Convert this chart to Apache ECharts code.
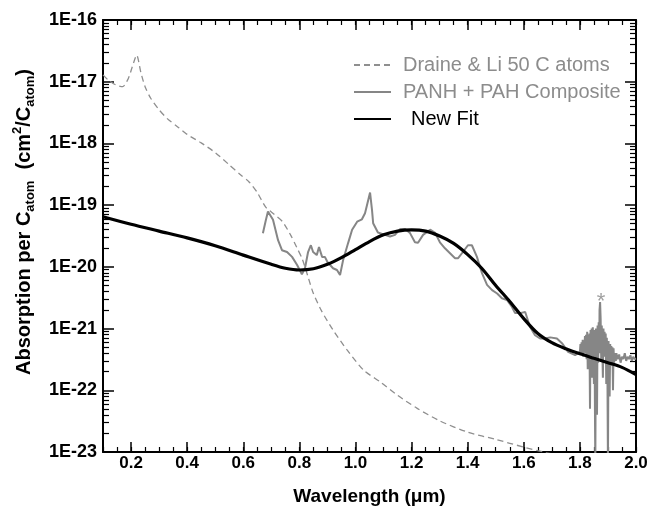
<!DOCTYPE html>
<html><head><meta charset="utf-8">
<script src="https://cdn.jsdelivr.net/npm/echarts@6/dist/echarts.min.js"></script>
<style>html,body{margin:0;padding:0;background:#fff}#c{width:649px;height:507px}</style>
</head><body><div id="c"></div><script>
// Draine & Li 50 C atoms  [wavelength (um), absorption per C atom (cm^2/C_atom)]
const draine = [[0.10,1.29e-17],[0.12,1.05e-17],[0.145,8.9e-18],[0.17,8.3e-18],[0.19,1.12e-17],
[0.205,1.78e-17],[0.22,2.7e-17],[0.235,1.41e-17],[0.25,8.3e-18],[0.27,5.4e-18],
[0.30,3.5e-18],[0.33,2.5e-18],[0.37,1.8e-18],[0.40,1.4e-18],[0.45,1.02e-18],
[0.50,7.1e-19],[0.55,4.5e-19],[0.59,3.1e-19],[0.62,2.4e-19],[0.65,1.6e-19],
[0.68,9.3e-20],[0.71,7.1e-20],[0.74,5.4e-20],[0.77,3.2e-20],[0.79,2.1e-20],
[0.81,1.35e-20],[0.83,7.1e-21],[0.85,3.7e-21],[0.88,1.9e-21],[0.92,9.5e-22],
[0.97,4.5e-22],[1.03,2.1e-22],[1.09,1.35e-22],[1.15,8.3e-23],[1.22,5.1e-23],
[1.30,3.2e-23],[1.40,2.1e-23],[1.50,1.6e-23],[1.60,1.2e-23],[1.67,1.0e-23],[1.72,8.9e-24]];

// PANH + PAH Composite
const composite = [[0.670,3.5e-20],[0.680,5.6e-20],[0.688,7.9e-20],[0.706,5.8e-20],[0.724,2.7e-20],
[0.738,1.86e-20],[0.756,1.74e-20],[0.774,1.45e-20],[0.792,1.07e-20],[0.809,7.6e-21],
[0.820,9.5e-21],[0.831,1.74e-20],[0.841,2.24e-20],[0.849,1.74e-20],[0.862,1.55e-20],
[0.870,2.1e-20],[0.881,1.45e-20],[0.891,1.45e-20],[0.900,1.2e-20],[0.920,9.5e-21],
[0.934,8.9e-21],[0.945,7.4e-21],[0.956,1.29e-20],[0.974,2.45e-20],[0.988,4.0e-20],
[1.006,5.4e-20],[1.023,5.9e-20],[1.034,7.4e-20],[1.041,1.0e-19],[1.052,1.6e-19],
[1.059,8.3e-20],[1.063,5.1e-20],[1.080,3.6e-20],[1.105,3.3e-20],[1.123,3.1e-20],
[1.141,3.3e-20],[1.159,4.1e-20],[1.177,4.1e-20],[1.194,3.55e-20],[1.212,2.5e-20],
[1.223,2.45e-20],[1.241,3.3e-20],[1.266,4.0e-20],[1.284,3.55e-20],[1.301,2.5e-20],
[1.319,2.0e-20],[1.337,1.66e-20],[1.355,1.38e-20],[1.366,1.38e-20],[1.383,1.74e-20],
[1.401,2.24e-20],[1.415,2.24e-20],[1.433,1.45e-20],[1.451,7.9e-21],[1.469,5.1e-21],
[1.487,4.2e-21],[1.505,3.7e-21],[1.522,3.1e-21],[1.540,2.9e-21],[1.558,2.24e-21],
[1.569,1.78e-21],[1.587,1.78e-21],[1.605,1.86e-21],[1.622,1.07e-21],[1.640,7.8e-22],
[1.658,6.9e-22],[1.676,6.9e-22],[1.694,7.2e-22],[1.718,6.9e-22],[1.736,5.8e-22],
[1.758,4.2e-22],[1.783,3.7e-22],
[1.800,4.2e-22],[1.802,5.6e-22],[1.804,3.8e-22],[1.806,6.0e-22],[1.808,4.0e-22],
[1.810,6.6e-22],[1.812,3.5e-22],[1.814,6.3e-22],[1.816,4.5e-22],[1.818,7.6e-22],
[1.820,4.0e-22],[1.822,7.9e-22],[1.824,3.2e-22],[1.826,8.9e-22],[1.828,2.2e-22],
[1.830,7.9e-22],[1.832,3.5e-22],[1.834,8.3e-22],[1.836,5.0e-23],[1.838,9.5e-22],
[1.840,2.8e-22],[1.842,1.0e-21],[1.844,1.6e-22],[1.846,1.05e-21],[1.848,3.2e-22],
[1.850,1.26e-22],[1.852,9.5e-22],[1.854,2.5e-23],[1.855,6.3e-24],[1.857,1.0e-21],
[1.859,2.5e-22],[1.861,4.0e-23],[1.863,1.12e-21],[1.865,2.8e-22],[1.867,1.26e-21],
[1.869,4.0e-22],[1.870,2.0e-21],[1.872,2.7e-21],[1.874,1.41e-21],[1.876,3.2e-22],
[1.878,1.12e-21],[1.880,4.5e-22],[1.882,1.6e-22],[1.884,1.0e-21],[1.886,3.5e-22],
[1.888,8.9e-22],[1.890,4.0e-22],[1.892,8.3e-22],[1.894,1.26e-22],[1.896,7.1e-22],
[1.898,2.5e-22],[1.900,6.3e-24],[1.902,6.3e-22],[1.904,3.2e-22],[1.906,7.9e-23],
[1.908,5.6e-22],[1.910,2.8e-22],[1.912,5.2e-22],[1.914,2.5e-22],[1.916,5.0e-22],
[1.918,1.0e-22],[1.920,4.8e-22],[1.922,2.8e-22],[1.925,4.0e-22],[1.928,3.0e-22],
[1.930,4.0e-22],[1.935,3.2e-22],[1.940,3.8e-22],[1.945,2.8e-22],
[1.950,3.5e-22],[1.955,3.2e-22],[1.960,4.0e-22],[1.965,3.0e-22],[1.970,3.5e-22],
[1.975,3.2e-22],[1.980,3.7e-22],[1.985,3.0e-22],[1.990,3.5e-22],[1.995,3.2e-22],[2.000,3.3e-22]];

// New Fit
const newFit = [[0.10,6.5e-20],[0.20,4.9e-20],[0.30,3.8e-20],[0.40,2.95e-20],[0.50,2.2e-20],
[0.60,1.55e-20],[0.70,1.1e-20],[0.75,9.5e-21],[0.80,8.9e-21],[0.85,9.3e-21],
[0.90,1.1e-20],[0.95,1.41e-20],[1.00,1.9e-20],[1.05,2.57e-20],[1.10,3.3e-20],
[1.15,3.8e-20],[1.20,3.98e-20],[1.25,3.8e-20],[1.30,3.16e-20],[1.35,2.4e-20],
[1.40,1.58e-20],[1.45,9.5e-21],[1.50,5.0e-21],[1.55,2.75e-21],[1.60,1.45e-21],
[1.65,8.3e-22],[1.70,5.9e-22],[1.75,4.7e-22],[1.80,3.9e-22],[1.85,3.3e-22],
[1.90,2.8e-22],[1.95,2.35e-22],[2.00,1.8e-22]];

// asterisk marker above the 1.875 um spike
const asterisk = [[1.875, 3.2e-21]];

const xTickLabels = [0.2,0.4,0.6,0.8,1.0,1.2,1.4,1.6,1.8,2.0];
const yDecades = [-23,-22,-21,-20,-19,-18,-17,-16];   // labels 1E-23 ... 1E-16
const xMinorTicks = [];
for (let i = 2; i <= 40; i++) xMinorTicks.push(+(i * 0.05).toFixed(2));
const yMinorTicks = [];
for (let n = -23; n < -16; n++) for (let k = 2; k <= 9; k++) yMinorTicks.push(n + Math.log10(k));

const seriesNames = ['Draine & Li 50 C atoms', 'PANH + PAH Composite', 'New Fit'];
const F = 'Liberation Sans, Arial, Helvetica, sans-serif';
// decimal-log axis: the library's linear scale applied to log10 of each value
const toLog = arr => arr.map(p => [p[0], Math.log10(p[1])]);

const chart = echarts.init(document.getElementById('c'), null, {renderer: 'canvas'});
const xBase = {type: 'value', min: 0.1, max: 2.0, interval: 0.05, splitLine: {show: false}, axisLabel: {show: false}};
const yBase = {type: 'value', min: -23, max: -16, interval: 1, splitLine: {show: false}, axisLabel: {show: false}};
const tickStyle = {color: '#000', width: 1.5};
const minorStyle = {color: '#000', width: 1.2};
chart.setOption({
  animation: false,
  backgroundColor: '#fff',
  grid: {left: 103, right: 13, top: 20, bottom: 55, containLabel: false, outerBoundsMode: 'none'},
  xAxis: [
    Object.assign({}, xBase, {position: 'bottom',
      axisLine: {show: true, lineStyle: {color: '#000', width: 2}},
      axisTick: {show: true, inside: true, length: 10, customValues: xTickLabels, lineStyle: tickStyle},
      axisLabel: {show: true, customValues: xTickLabels, margin: 3, color: '#000', fontFamily: F, fontWeight: 'bold', fontSize: 17,
        formatter: v => (+v).toFixed(1)},
      name: 'Wavelength (\u03bcm)', nameLocation: 'middle', nameGap: 35,
      nameTextStyle: {color: '#000', fontFamily: F, fontWeight: 'bold', fontSize: 19}}),
    Object.assign({}, xBase, {position: 'bottom', axisLine: {show: false},
      axisTick: {show: true, inside: true, length: 5, customValues: xMinorTicks, lineStyle: minorStyle}}),
    Object.assign({}, xBase, {position: 'top',
      axisLine: {show: true, lineStyle: {color: '#000', width: 2}},
      axisTick: {show: true, inside: true, length: 10, customValues: xTickLabels, lineStyle: tickStyle}}),
    Object.assign({}, xBase, {position: 'top', axisLine: {show: false},
      axisTick: {show: true, inside: true, length: 5, customValues: xMinorTicks, lineStyle: minorStyle}})
  ],
  yAxis: [
    Object.assign({}, yBase, {position: 'left',
      axisLine: {show: true, lineStyle: {color: '#000', width: 2}},
      axisTick: {show: true, inside: true, length: 11, customValues: yDecades, lineStyle: tickStyle},
      axisLabel: {show: true, customValues: yDecades, margin: 6, color: '#000', fontFamily: F, fontWeight: 'bold', fontSize: 18,
        formatter: v => '1E' + Math.round(v)}}),
    Object.assign({}, yBase, {position: 'left', axisLine: {show: false},
      axisTick: {show: true, inside: true, length: 6, customValues: yMinorTicks, lineStyle: minorStyle}}),
    Object.assign({}, yBase, {position: 'right',
      axisLine: {show: true, lineStyle: {color: '#000', width: 2}},
      axisTick: {show: true, inside: true, length: 11, customValues: yDecades, lineStyle: tickStyle}}),
    Object.assign({}, yBase, {position: 'right', axisLine: {show: false},
      axisTick: {show: true, inside: true, length: 6, customValues: yMinorTicks, lineStyle: minorStyle}})
  ],
  legend: {
    orient: 'vertical', left: 353, top: 55, padding: 0, itemGap: 7,
    itemWidth: 37, itemHeight: 14,
    itemStyle: {opacity: 0},
    textStyle: {fontFamily: F, fontSize: 20, lineHeight: 20,
      rich: {a: {padding: [0, 0, 0, 7]}, b: {padding: [0, 0, 0, 15]}}},
    formatter: n => n === 'New Fit' ? '{b|' + n + '}' : '{a|' + n + '}',
    data: [
      {name: seriesNames[0], textStyle: {color: '#8c8c8c'}},
      {name: seriesNames[1], textStyle: {color: '#8c8c8c'}},
      {name: seriesNames[2], textStyle: {color: '#000'}}
    ]
  },
  graphic: [{
    type: 'text', x: 24, y: 222, rotation: Math.PI / 2,
    style: {
      text: '{m|Absorption per C}{s|atom}{m|  (cm}{p|2}{m|/C}{s|atom}{m|)}',
      align: 'center', verticalAlign: 'middle', fill: '#000',
      rich: {
        m: {fontFamily: F, fontWeight: 'bold', fontSize: 20, lineHeight: 26, fill: '#000'},
        s: {fontFamily: F, fontWeight: 'bold', fontSize: 13, lineHeight: 15, verticalAlign: 'bottom', fill: '#000'},
        p: {fontFamily: F, fontWeight: 'bold', fontSize: 13, lineHeight: 15, verticalAlign: 'top', fill: '#000'}
      }
    }
  }],
  series: [
    {name: seriesNames[0], type: 'line', data: toLog(draine), showSymbol: false, symbol: 'none', smooth: 0.25,
      lineStyle: {color: '#8f8f8f', width: 1.3, type: [6, 4]}, itemStyle: {color: '#8f8f8f'}, z: 2},
    {name: seriesNames[1], type: 'line', data: toLog(composite), showSymbol: false, symbol: 'none',
      lineStyle: {color: '#868686', width: 2}, itemStyle: {color: '#868686'}, z: 3},
    {name: seriesNames[2], type: 'line', data: toLog(newFit), showSymbol: false, symbol: 'none', smooth: 0.3,
      lineStyle: {color: '#000', width: 3.2}, itemStyle: {color: '#000'}, z: 4},
    {name: 'asterisk', type: 'scatter', data: toLog(asterisk), symbolSize: 0, itemStyle: {color: 'rgba(0,0,0,0)'},
      label: {show: true, position: 'inside', formatter: '*', offset: [0, 5], color: '#888', fontFamily: F, fontSize: 22},
      silent: true, z: 5}
  ]
});
</script></body></html>
